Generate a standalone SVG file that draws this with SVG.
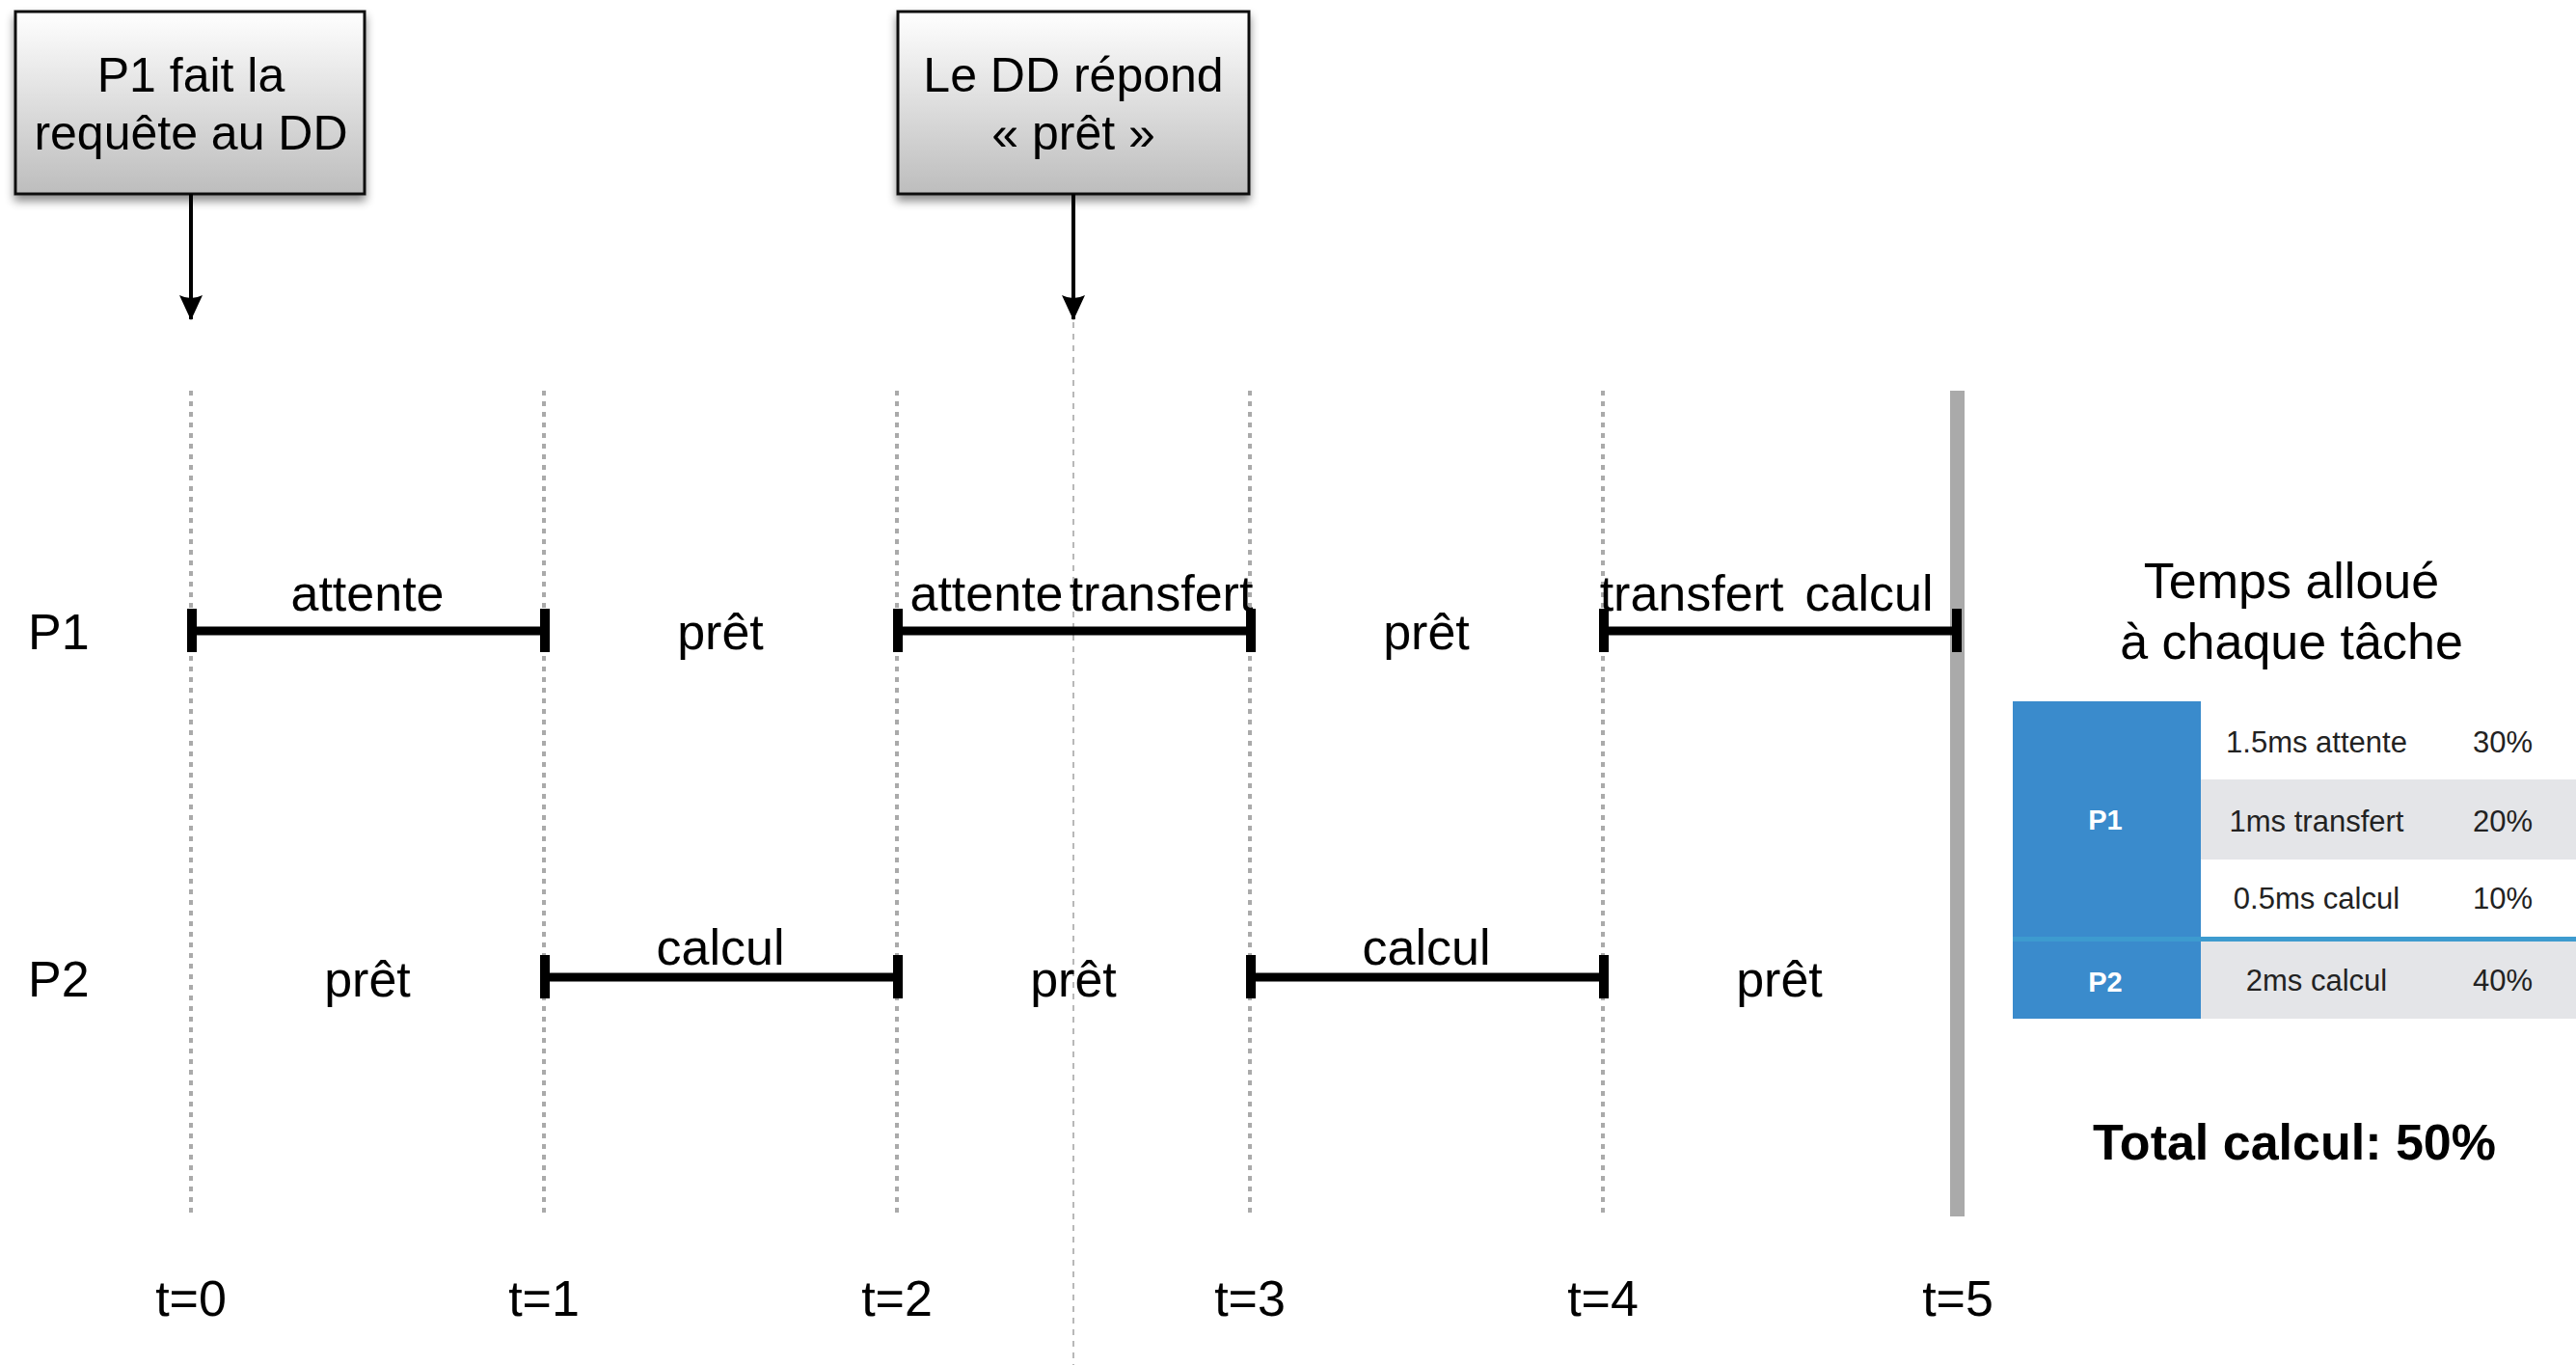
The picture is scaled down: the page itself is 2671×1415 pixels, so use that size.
<svg xmlns="http://www.w3.org/2000/svg" width="2671" height="1415" viewBox="0 0 2671 1415">
  <defs>
    <linearGradient id="boxFill" x1="0" y1="0" x2="0" y2="1">
      <stop offset="0" stop-color="#ffffff"/>
      <stop offset="1" stop-color="#bdbdbd"/>
    </linearGradient>
    <filter id="shadow" x="-10%" y="-10%" width="120%" height="130%">
      <feDropShadow dx="0" dy="6" stdDeviation="5" flood-color="#000" flood-opacity="0.45"/>
    </filter>
    <marker id="arrowHead" viewBox="0 0 26 24" refX="25" refY="12" markerWidth="26" markerHeight="24" markerUnits="userSpaceOnUse" orient="auto">
      <path d="M0,0 Q6,12 0,24 L26,12 Z" fill="#000"/>
    </marker>
  </defs>
  <style>
    text { font-family: "Liberation Sans", Arial, Helvetica, sans-serif; fill: #000; }
    .callout { font-size: 50px; text-anchor: middle; }
    .label { font-size: 52px; text-anchor: middle; }
    .proc { font-size: 52px; }
    .tick { font-size: 52px; text-anchor: middle; }
    .grid { stroke: #aaaaaa; stroke-width: 4; stroke-dasharray: 5 6; fill: none; }
    .event { stroke: #b8b8b8; stroke-width: 2; stroke-dasharray: 6 6; fill: none; }
    .bar { stroke: #000; stroke-width: 9; fill: none; }
    .cap { stroke: #000; stroke-width: 10; }
    .box { fill: url(#boxFill); stroke: #111; stroke-width: 3; filter: url(#shadow); }
    .arrow { stroke: #000; stroke-width: 4; fill: none; marker-end: url(#arrowHead); }
    .title { font-size: 52px; text-anchor: middle; }
    .cell { font-size: 31px; fill: #222; text-anchor: middle; }
    .head { font-size: 29px; font-weight: bold; fill: #fff; text-anchor: middle; }
    .total { font-size: 52px; font-weight: bold; text-anchor: middle; }
  </style>

  <rect width="2671" height="1415" fill="#fff"/>

  <!-- time grid -->
  <g id="grid">
    <line class="grid" x1="198" y1="405" x2="198" y2="1261"/>
    <line class="grid" x1="564" y1="405" x2="564" y2="1261"/>
    <line class="grid" x1="930" y1="405" x2="930" y2="1261"/>
    <line class="grid" x1="1296" y1="405" x2="1296" y2="1261"/>
    <line class="grid" x1="1662" y1="405" x2="1662" y2="1261"/>
    <line class="event" x1="1113" y1="334" x2="1113" y2="1415"/>
    <rect x="2022" y="405" width="15" height="856" fill="#aaaaaa"/>
  </g>

  <!-- time axis labels -->
  <g id="axis">
    <text class="tick" x="198" y="1364">t=0</text>
    <text class="tick" x="564" y="1364">t=1</text>
    <text class="tick" x="930" y="1364">t=2</text>
    <text class="tick" x="1296" y="1364">t=3</text>
    <text class="tick" x="1662" y="1364">t=4</text>
    <text class="tick" x="2030" y="1364">t=5</text>
  </g>

  <!-- event callouts -->
  <g id="callout-request">
    <rect class="box" x="16" y="12" width="362" height="189"/>
    <text class="callout" x="198" y="95">P1 fait la</text>
    <text class="callout" x="198" y="155">requête au DD</text>
  </g>
  <g id="callout-ready">
    <rect class="box" x="931" y="12" width="364" height="189"/>
    <text class="callout" x="1113" y="95">Le DD répond</text>
    <text class="callout" x="1113" y="155">« prêt »</text>
  </g>

  <g id="connectors">
    <line class="arrow" x1="198" y1="201" x2="198" y2="331"/>
    <line class="arrow" x1="1113" y1="201" x2="1113" y2="331"/>
  </g>

  <!-- process P1 -->
  <g id="row-p1">
    <text class="proc" x="29" y="673">P1</text>
    <path class="bar" d="M198,654 H564"/>
    <line class="cap" x1="199" y1="631" x2="199" y2="676"/>
    <line class="cap" x1="565" y1="631" x2="565" y2="676"/>
    <text class="label" x="381" y="633">attente</text>
    <text class="label" x="747" y="673">prêt</text>
    <path class="bar" d="M930,654 H1296"/>
    <line class="cap" x1="931" y1="631" x2="931" y2="676"/>
    <line class="cap" x1="1297" y1="631" x2="1297" y2="676"/>
    <text class="label" x="1023" y="633">attente</text>
    <text class="label" x="1204" y="633">transfert</text>
    <text class="label" x="1479" y="673">prêt</text>
    <path class="bar" d="M1662,654 H2030"/>
    <line class="cap" x1="1663" y1="631" x2="1663" y2="676"/>
    <line class="cap" x1="2029" y1="631" x2="2029" y2="676"/>
    <text class="label" x="1754" y="633">transfert</text>
    <text class="label" x="1938" y="633">calcul</text>
  </g>

  <!-- process P2 -->
  <g id="row-p2">
    <text class="proc" x="29" y="1033">P2</text>
    <text class="label" x="381" y="1033">prêt</text>
    <path class="bar" d="M564,1013 H930"/>
    <line class="cap" x1="565" y1="990" x2="565" y2="1035"/>
    <line class="cap" x1="931" y1="990" x2="931" y2="1035"/>
    <text class="label" x="747" y="1000">calcul</text>
    <text class="label" x="1113" y="1033">prêt</text>
    <path class="bar" d="M1296,1013 H1662"/>
    <line class="cap" x1="1297" y1="990" x2="1297" y2="1035"/>
    <line class="cap" x1="1663" y1="990" x2="1663" y2="1035"/>
    <text class="label" x="1479" y="1000">calcul</text>
    <text class="label" x="1845" y="1033">prêt</text>
  </g>

  <!-- time allocation table -->
  <g id="allocation">
    <text class="title" x="2376" y="620">Temps alloué</text>
    <text class="title" x="2376" y="683">à chaque tâche</text>
    <rect x="2282" y="727" width="389" height="81" fill="#ffffff"/>
    <rect x="2282" y="808" width="389" height="83" fill="#e4e5e8"/>
    <rect x="2282" y="891" width="389" height="80" fill="#ffffff"/>
    <rect x="2282" y="976" width="389" height="80" fill="#e4e5e8"/>
    <rect x="2087" y="727" width="195" height="245" fill="#3a8bcc"/>
    <rect x="2087" y="976" width="195" height="80" fill="#3a8bcc"/>
    <rect x="2087" y="971" width="584" height="5" fill="#3d9bcf"/>
    <text class="head" x="2183" y="860">P1</text>
    <text class="head" x="2183" y="1028">P2</text>
    <text class="cell" x="2402" y="780">1.5ms attente</text>
    <text class="cell" x="2595" y="780">30%</text>
    <text class="cell" x="2402" y="862">1ms transfert</text>
    <text class="cell" x="2595" y="862">20%</text>
    <text class="cell" x="2402" y="942">0.5ms calcul</text>
    <text class="cell" x="2595" y="942">10%</text>
    <text class="cell" x="2402" y="1027">2ms calcul</text>
    <text class="cell" x="2595" y="1027">40%</text>
    <text class="total" x="2379" y="1202">Total calcul: 50%</text>
  </g>
</svg>
